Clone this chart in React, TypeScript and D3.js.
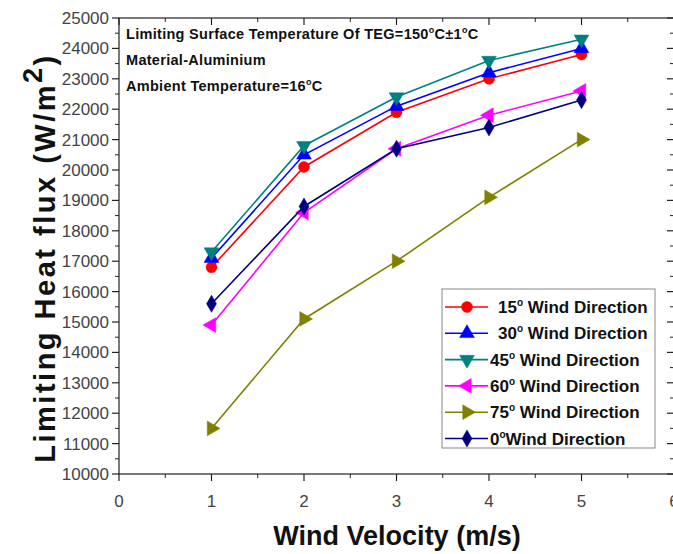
import React from 'react'
import * as d3 from 'd3'

// Wind velocity (m/s)
const velocity = [1, 2, 3, 4, 5]

// Limiting heat flux (W/m^2) per wind direction
const dir15 = [16800, 20100, 21900, 23000, 23800]
const dir30 = [17100, 20500, 22100, 23200, 24000]
const dir45 = [17300, 20800, 22400, 23600, 24300]
const dir60 = [14900, 18600, 20700, 21800, 22600]
const dir75 = [11500, 15100, 17000, 19100, 21000]
const dir0 = [15600, 18800, 20700, 21400, 22300]

const seriesNames = ['15', '30', '45', '60', '75', '0']
const xTicks = [0, 1, 2, 3, 4, 5, 6]
const yTicks = d3.range(10000, 25001, 1000)

const notes = [
  ['Limiting Surface Temperature Of TEG=150', 'C\u00b11', 'C'],
  ['Material-Aluminium'],
  ['Ambient Temperature=16', 'C'],
]

const width = 673
const height = 554
const left = 119
const right = 674
const top = 18
const bottom = 474

const x = d3.scaleLinear().domain([0, 6]).range([left, right])
const y = d3.scaleLinear().domain([10000, 25000]).range([bottom, top])

const styles = [
  { color: '#ff0000', shape: d3.symbolCircle, rot: 0, values: dir15 },
  { color: '#0000ff', shape: d3.symbolTriangle, rot: 0, values: dir30 },
  { color: '#008080', shape: d3.symbolTriangle, rot: 180, values: dir45 },
  { color: '#ff00ff', shape: d3.symbolTriangle, rot: -90, values: dir60 },
  { color: '#808000', shape: d3.symbolTriangle, rot: 90, values: dir75 },
  { color: '#000080', shape: d3.symbolDiamond, rot: 0, values: dir0 },
]

const font = 'Arial, "Liberation Sans", sans-serif'

function Marker({ cx, cy, s }: { cx: number; cy: number; s: any }) {
  const size = s.shape === d3.symbolCircle ? 95 : s.shape === d3.symbolDiamond ? 85 : 95
  const path = d3.symbol().type(s.shape).size(size)() as string
  return (
    <path
      d={path}
      transform={`translate(${cx},${cy}) rotate(${s.rot})`}
      fill={s.color}
      stroke={s.color}
      strokeWidth={0.5}
    />
  )
}

export default function App() {
  const line = d3
    .line<number>()
    .x((_, i) => x(velocity[i]))
    .y(d => y(d))

  const xMinor = d3.range(0.5, 6, 1)
  const yMinor = d3.range(10500, 25000, 1000)

  const legX = 442
  const legY = 289
  const rowH = 26.3

  return (
    <svg
      width={width}
      height={height}
      style={{ position: 'absolute', left: 0, top: 0, background: '#fff' }}
      fontFamily={font}
    >
      {/* frame */}
      <rect x={left} y={top} width={right - left} height={bottom - top} fill="none" stroke="#222" strokeWidth={1.2} />

      {/* bottom axis */}
      {xTicks.map(t => (
        <g key={'xt' + t}>
          <line x1={x(t)} x2={x(t)} y1={bottom} y2={bottom + 7} stroke="#222" strokeWidth={1.2} />
          <line x1={x(t)} x2={x(t)} y1={top} y2={top + 7} stroke="#222" strokeWidth={1.2} />
          <text x={x(t)} y={bottom + 33} textAnchor="middle" fontSize={17} fill="#444">
            {t}
          </text>
        </g>
      ))}
      {xMinor.map(t => (
        <g key={'xm' + t}>
          <line x1={x(t)} x2={x(t)} y1={bottom} y2={bottom + 4} stroke="#222" strokeWidth={1} />
          <line x1={x(t)} x2={x(t)} y1={top} y2={top + 4} stroke="#222" strokeWidth={1} />
        </g>
      ))}

      {/* left axis */}
      {yTicks.map(t => (
        <g key={'yt' + t}>
          <line x1={left - 7} x2={left} y1={y(t)} y2={y(t)} stroke="#222" strokeWidth={1.2} />
          <line x1={right - 7} x2={right} y1={y(t)} y2={y(t)} stroke="#222" strokeWidth={1.2} />
          <text x={left - 10} y={y(t) + 6} textAnchor="end" fontSize={17} fill="#444">
            {t}
          </text>
        </g>
      ))}
      {yMinor.map(t => (
        <g key={'ym' + t}>
          <line x1={left - 4} x2={left} y1={y(t)} y2={y(t)} stroke="#222" strokeWidth={1} />
          <line x1={right - 4} x2={right} y1={y(t)} y2={y(t)} stroke="#222" strokeWidth={1} />
        </g>
      ))}

      {/* axis titles */}
      <text x={397} y={545} textAnchor="middle" fontSize={27} fontWeight="bold" fill="#111">
        Wind Velocity (m/s)
      </text>
      <text
        transform={`translate(55,${(top + bottom) / 2 + 12}) rotate(-90)`}
        textAnchor="middle"
        fontSize={29}
        fontWeight="bold"
        letterSpacing={2.5}
        fill="#111"
      >
        Limiting Heat flux (W/m
        <tspan dy={-13} fontSize={27}>2</tspan>
        <tspan dy={13}>)</tspan>
      </text>

      {/* notes */}
      {notes.map((n, i) => (
        <text key={'n' + i} x={126} y={39 + i * 26} fontSize={14.5} fontWeight="bold" letterSpacing={0.3} fill="#111">
          {n.map((part, j) => (
            <React.Fragment key={j}>
              {j > 0 && (
                <tspan dy={-6} fontSize={9}>
                  o
                </tspan>
              )}
              <tspan dy={j > 0 ? 6 : 0}>{part}</tspan>
            </React.Fragment>
          ))}
        </text>
      ))}

      {/* series */}
      {styles.map((s, i) => (
        <g key={'s' + i}>
          <path d={line(s.values) as string} fill="none" stroke={s.color} strokeWidth={1.6} />
          {s.values.map((v, j) => (
            <Marker key={j} cx={x(velocity[j])} cy={y(v)} s={s} />
          ))}
        </g>
      ))}

      {/* legend */}
      <rect x={legX} y={legY} width={213} height={159} fill="#fff" stroke="#888" strokeWidth={1} />
      {styles.map((s, i) => {
        const cy = legY + 18 + i * rowH
        const name = seriesNames[i]
        const pad = i < 2 ? 8 : 0
        return (
          <g key={'l' + i}>
            <line x1={legX + 3} x2={legX + 46} y1={cy} y2={cy} stroke={s.color} strokeWidth={1.6} />
            <Marker cx={legX + 25} cy={cy} s={s} />
            <text x={legX + 48 + pad} y={cy + 6} fontSize={17} fontWeight="bold" fill="#111">
              {name}
              <tspan dy={-7} fontSize={10}>o</tspan>
              <tspan dy={7}>{name === '0' ? '' : ' '}Wind Direction</tspan>
            </text>
          </g>
        )
      })}
    </svg>
  )
}
